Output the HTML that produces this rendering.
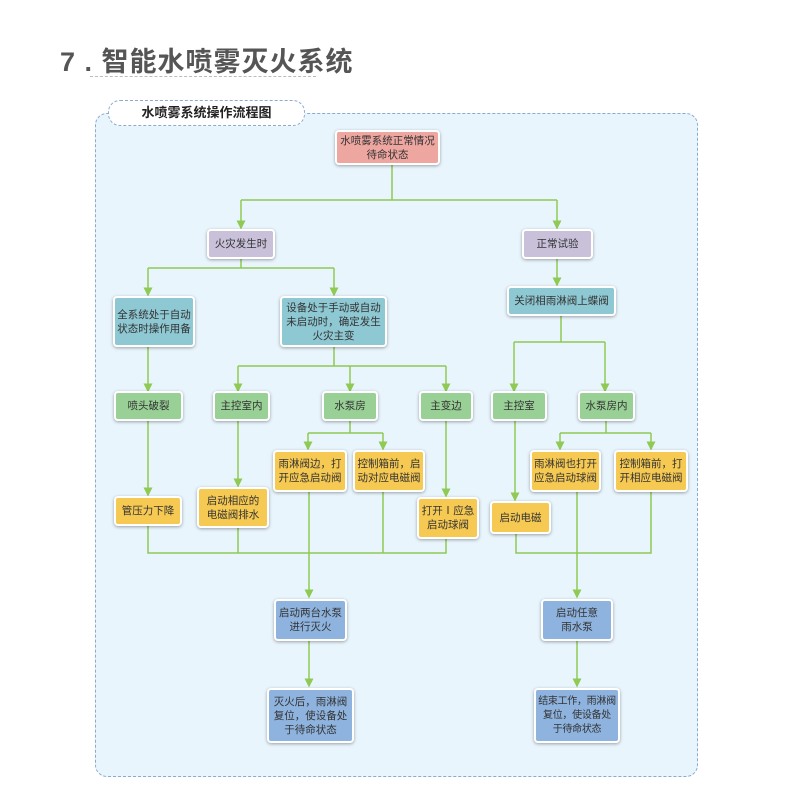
<!DOCTYPE html>
<html><head><meta charset="utf-8"><style>
body{margin:0;width:800px;height:800px;background:#fff;position:relative;overflow:hidden;font-family:"Liberation Sans","Noto Sans CJK SC",sans-serif;}
.t{position:absolute;left:60px;top:40px;font-size:27px;font-weight:bold;color:#555;letter-spacing:1px}
.ul{position:absolute;left:90px;top:76px;width:226px;border-top:1px dashed #bbb}
.panel{position:absolute;left:95px;top:113px;width:601px;height:662px;border:1px dashed #8aaad0;border-radius:12px;background:#e9f5fd}
.tab{position:absolute;left:108px;top:100px;width:195px;height:24px;border:1px dashed #8aaad0;border-radius:12px;background:#fff;font-size:13px;font-weight:bold;color:#222;text-align:center;line-height:24px}
.b{position:absolute;box-sizing:border-box;border:2px solid #fff;border-radius:4px;box-shadow:0 1px 3px rgba(0,0,0,.35);display:flex;align-items:center;justify-content:center;text-align:center;font-size:10.5px;line-height:14px;color:#333;white-space:nowrap}
.pk{background:#eea6a0}.pu{background:#c9c0da}.bl{background:#8ec8d3}.gr{background:#98d096}.ye{background:#f6c952}.db{background:#8eb3de}
svg{position:absolute;left:0;top:0}
</style></head><body>
<div class="t">7 . 智能水喷雾灭火系统</div><div class="ul"></div>
<div class="panel"></div>
<div class="tab">水喷雾系统操作流程图</div>
<svg width="800" height="800"><defs><marker id="a" markerWidth="6" markerHeight="6" refX="3" refY="5" orient="0"><path d="M0,0 L6,0 L3,6z" fill="#8fca54"/></marker></defs>
<g stroke="#8fca54" stroke-width="1.5" fill="none">
<path d="M392 165V200M241 200H557"/><path d="M241 200V228" marker-end="url(#a)"/><path d="M557 200V228" marker-end="url(#a)"/>
<path d="M241 259V268M148 268H334"/><path d="M148 268V295" marker-end="url(#a)"/><path d="M334 268V295" marker-end="url(#a)"/>
<path d="M557 259V285" marker-end="url(#a)"/>
<path d="M148 347V391" marker-end="url(#a)"/>
<path d="M334 347V366M238 366H446"/><path d="M238 366V391" marker-end="url(#a)"/><path d="M350 366V391" marker-end="url(#a)"/><path d="M446 366V391" marker-end="url(#a)"/>
<path d="M148 421V495" marker-end="url(#a)"/><path d="M238 421V486" marker-end="url(#a)"/>
<path d="M350 421V433M308 433H383"/><path d="M308 433V449" marker-end="url(#a)"/><path d="M383 433V449" marker-end="url(#a)"/>
<path d="M446 421V496" marker-end="url(#a)"/>
<path d="M561 316V342M514 342H605"/><path d="M514 342V391" marker-end="url(#a)"/><path d="M605 342V391" marker-end="url(#a)"/>
<path d="M515 421V500" marker-end="url(#a)"/>
<path d="M606 421V433M560 433H651"/><path d="M560 433V449" marker-end="url(#a)"/><path d="M651 433V449" marker-end="url(#a)"/>
<path d="M148 526V553H446V539M238 528V553M383 492V553"/><path d="M309 492V597" marker-end="url(#a)"/>
<path d="M516 534V553H651V492"/><path d="M577 492V597" marker-end="url(#a)"/>
<path d="M309 641V686" marker-end="url(#a)"/><path d="M577 641V686" marker-end="url(#a)"/>
</g></svg>
<div class="b pk" style="left:335px;top:130px;width:105px;height:35px">水喷雾系统正常情况<br>待命状态</div>
<div class="b pu" style="left:207px;top:229px;width:68px;height:30px">火灾发生时</div>
<div class="b pu" style="left:522px;top:229px;width:71px;height:30px">正常试验</div>
<div class="b bl" style="left:113px;top:296px;width:82px;height:51px">全系统处于自动<br>状态时操作用备</div>
<div class="b bl" style="left:280px;top:296px;width:107px;height:51px">设备处于手动或自动<br>未启动时，确定发生<br>火灾主变</div>
<div class="b bl" style="left:507px;top:286px;width:109px;height:30px">关闭相雨淋阀上蝶阀</div>
<div class="b gr" style="left:114px;top:391px;width:69px;height:30px">喷头破裂</div>
<div class="b gr" style="left:213px;top:391px;width:57px;height:30px">主控室内</div>
<div class="b gr" style="left:322px;top:391px;width:56px;height:30px">水泵房</div>
<div class="b gr" style="left:419px;top:391px;width:54px;height:30px">主变边</div>
<div class="b gr" style="left:491px;top:391px;width:56px;height:30px">主控室</div>
<div class="b gr" style="left:578px;top:391px;width:57px;height:30px">水泵房内</div>
<div class="b ye" style="left:273px;top:450px;width:74px;height:42px">雨淋阀边，打<br>开应急启动阀</div>
<div class="b ye" style="left:353px;top:450px;width:72px;height:42px">控制箱前，启<br>动对应电磁阀</div>
<div class="b ye" style="left:530px;top:450px;width:71px;height:42px">雨淋阀也打开<br>应急启动球阀</div>
<div class="b ye" style="left:614px;top:450px;width:74px;height:42px">控制箱前，打<br>开相应电磁阀</div>
<div class="b ye" style="left:114px;top:496px;width:68px;height:30px">管压力下降</div>
<div class="b ye" style="left:197px;top:487px;width:72px;height:41px">启动相应的<br>电磁阀排水</div>
<div class="b ye" style="left:417px;top:497px;width:62px;height:42px">打开Ⅰ应急<br>启动球阀</div>
<div class="b ye" style="left:490px;top:501px;width:61px;height:33px">启动电磁</div>
<div class="b db" style="left:274px;top:599px;width:73px;height:42px">启动两台水泵<br>进行灭火</div>
<div class="b db" style="left:541px;top:599px;width:72px;height:42px">启动任意<br>雨水泵</div>
<div class="b db" style="left:267px;top:688px;width:87px;height:55px">灭火后，雨淋阀<br>复位，使设备处<br>于待命状态</div>
<div class="b db" style="left:534px;top:688px;width:86px;height:55px;font-size:10px;letter-spacing:-0.3px">结束工作，雨淋阀<br>复位，使设备处<br>于待命状态</div>
</body></html>
